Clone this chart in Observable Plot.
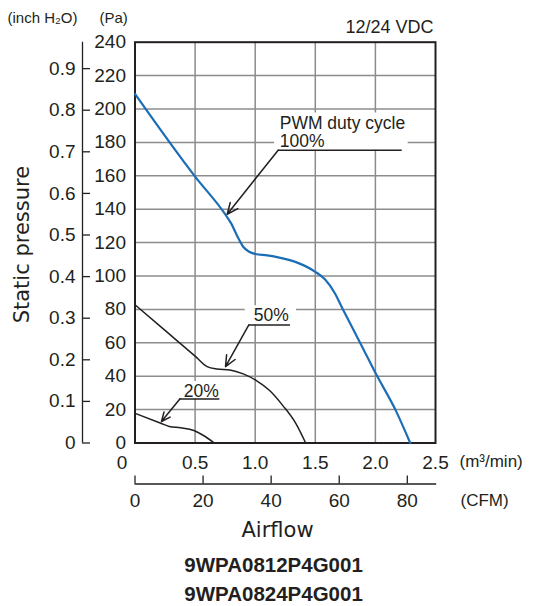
<!DOCTYPE html>
<html>
<head>
<meta charset="utf-8">
<script src="https://cdn.jsdelivr.net/npm/d3@7"></script>
<script src="https://cdn.jsdelivr.net/npm/@observablehq/plot@0.6"></script>
<style>
  html, body { margin: 0; padding: 0; background: #fff; }
  #chart svg { display: block; }
</style>
</head>
<body>
<div id="chart"></div>
<script>
// ---- data ----
const flow100 = [0, 0.5, 0.75, 0.8, 0.85, 0.9, 0.95, 1.0, 1.1, 1.2, 1.35, 1.5, 1.58, 1.66, 1.73, 1.88, 2.0, 2.17, 2.29];
const pa100   = [209, 159.5, 137, 131.5, 124, 117.5, 114.5, 113.2, 112.3, 111, 108, 102.5, 98, 90, 80, 59, 42, 19.4, 0];
const flow50  = [0, 0.24, 0.5, 0.6, 0.68, 0.79, 0.9, 1.01, 1.12, 1.23, 1.34, 1.42];
const pa50    = [82.8, 68, 52, 45.7, 44.3, 43.7, 41.4, 37.4, 31.4, 22.4, 11.5, 0];
const flow20  = [0, 0.215, 0.285, 0.38, 0.49, 0.57, 0.66];
const pa20    = [17.8, 11.8, 9.9, 9.1, 7.5, 4.5, 0];

const xTicks    = [0, 0.5, 1.0, 1.5, 2.0, 2.5];
const xGrid     = [0.5, 1.0, 1.5, 2.0];
const yTicks    = [0, 20, 40, 60, 80, 100, 120, 140, 160, 180, 200, 220, 240];
const yGrid     = [20, 40, 60, 80, 100, 120, 140, 160, 180, 200, 220];
const inchTicks = [0, 0.1, 0.2, 0.3, 0.4, 0.5, 0.6, 0.7, 0.8, 0.9];
const cfmTicks  = [0, 20, 40, 60, 80];
const PA_PER_INCH = 249.089;
const CFM_PER_M3MIN = 35.3147;

// annotations (data units)
const annoLabel = ["100%", "50%", "20%"];
const annoTextX = [1.204, 0.988, 0.406];
const annoTextY = [180.8, 76.2, 30.8];
const kneeX     = [1.191, 0.947, 0.373];
const kneeY     = [175.3, 70.7, 26.4];
const endX      = [2.223, 1.294, 0.706];
const tipX      = [0.767, 0.753, 0.22];
const tipY      = [137.0, 45.7, 12.9];
const headerLabel = "PWM duty cycle";
const headerY = 191.6;

const models = ["9WPA0812P4G001", "9WPA0824P4G001"];

// ---- build tables ----
const toRows = (xs, ys) => xs.map((x, i) => ({x, y: ys[i]}));
const c100 = toRows(flow100, pa100);
const c50 = toRows(flow50, pa50);
const c20 = toRows(flow20, pa20);
const annos = annoLabel.map((label, i) => ({
  label, tx: annoTextX[i], ty: annoTextY[i],
  kx: kneeX[i], ky: kneeY[i], ex: endX[i], px: tipX[i], py: tipY[i],
  top: i === 0 ? headerY : annoTextY[i]
}));

const W = 536, H = 606;
const mL = 134.5, mR = 101, mT = 41.7, mB = H - 442.5;
const innerW = W - mL - mR, innerH = H - mT - mB;

const ink = "#231f20";
const sans = "'Liberation Sans', Arial, Helvetica, sans-serif";
const wide = "'DejaVu Sans', sans-serif";
const TL = {fontSize: 19, fontFamily: sans, fill: ink, ariaLabel: "ticklabel"};

const plot = Plot.plot({
  width: W, height: H,
  marginLeft: mL, marginRight: mR, marginTop: mT, marginBottom: mB,
  x: {domain: [0, 2.5], axis: null},
  y: {domain: [0, 240], axis: null},
  style: {background: "#fff", color: ink, fontFamily: sans},
  marks: [
    // grid
    Plot.ruleX(xGrid, {stroke: "#8c8c8c", strokeWidth: 1.5}),
    Plot.ruleY(yGrid, {stroke: "#8c8c8c", strokeWidth: 1.5}),
    // white boxes behind annotation labels
    Plot.rect(annos, {x1: d => d.kx - 0.03, x2: d => d.ex + 0.05, y1: d => d.ky, y2: d => d.top + 6, fill: "#fff"}),
    Plot.frame({stroke: ink, strokeWidth: 2}),
    // curves
    Plot.line(c100, {x: "x", y: "y", stroke: "#1b6db5", strokeWidth: 2.2, curve: "monotone-x"}),
    Plot.line(c50, {x: "x", y: "y", stroke: ink, strokeWidth: 1.5, curve: "monotone-x"}),
    Plot.line(c20, {x: "x", y: "y", stroke: ink, strokeWidth: 1.5, curve: "monotone-x"}),
    // annotation leaders
    Plot.ruleY(annos, {y: "ky", x1: "kx", x2: "ex", stroke: ink, strokeWidth: 1.5}),
    Plot.arrow(annos, {x1: "kx", y1: "ky", x2: "px", y2: "py", stroke: ink, strokeWidth: 1.5, headLength: 12, headAngle: 48}),
    Plot.text(annos, {x: "tx", y: "ty", text: "label", textAnchor: "start", fontSize: 17.5, fontFamily: sans, fill: ink}),
    Plot.text([headerLabel], {x: annoTextX[0], y: headerY, textAnchor: "start", fontSize: 17.5, fontFamily: sans, fill: ink}),
    // Pa axis labels
    Plot.text(yTicks, {y: d => d, frameAnchor: "left", dx: -9, textAnchor: "end", lineAnchor: "middle", ...TL}),
    // inch H2O axis
    Plot.ruleX([0], {y1: 0, y2: 240, dx: -52.5, stroke: ink, strokeWidth: 1.3}),
    Plot.tickY(inchTicks, {y: d => d * PA_PER_INCH, insetRight: innerW - 8, dx: -52.5, stroke: ink, strokeWidth: 1.3}),
    Plot.text(inchTicks, {y: d => d * PA_PER_INCH, text: d => d === 0 ? "0" : d.toFixed(1), frameAnchor: "left", dx: -59.5, textAnchor: "end", lineAnchor: "middle", ...TL}),
    // m3/min labels
    Plot.text(xTicks.filter(d => d === 0), {x: d => d, text: d => "0", frameAnchor: "bottom", dy: 19.5, dx: -13, textAnchor: "middle", lineAnchor: "middle", ...TL}),
    Plot.text(xTicks.filter(d => d !== 0), {x: d => d, text: d => d.toFixed(1), frameAnchor: "bottom", dy: 19.5, textAnchor: "middle", lineAnchor: "middle", ...TL}),
    // CFM axis
    Plot.ruleY([0], {x1: 0, x2: 2.51, dy: 41, stroke: ink, strokeWidth: 1.3}),
    Plot.tickX(cfmTicks, {x: d => d / CFM_PER_M3MIN, insetTop: innerH - 8, dy: 41, stroke: ink, strokeWidth: 1.3}),
    Plot.text(cfmTicks, {x: d => d / CFM_PER_M3MIN, text: d => String(d), frameAnchor: "bottom", dy: 58, textAnchor: "middle", lineAnchor: "middle", ...TL}),
    // unit labels
    Plot.text(["(m³/min)"], {frameAnchor: "bottom-right", dx: 24, dy: 19, textAnchor: "start", lineAnchor: "middle", fontSize: 17, fontFamily: sans, fill: ink}),
    Plot.text(["(CFM)"], {frameAnchor: "bottom-right", dx: 25, dy: 58, textAnchor: "start", lineAnchor: "middle", fontSize: 17, fontFamily: sans, fill: ink}),
    Plot.text(["(inch H₂O)"], {frameAnchor: "top-left", dx: -127.5, dy: -24.5, textAnchor: "start", lineAnchor: "middle", fontSize: 15, fontFamily: sans, fill: ink}),
    Plot.text(["(Pa)"], {frameAnchor: "top-left", dx: -35.5, dy: -24.5, textAnchor: "start", lineAnchor: "middle", fontSize: 15, fontFamily: sans, fill: ink}),
    Plot.text(["12/24 VDC"], {frameAnchor: "top-right", dx: -2, dy: -15, textAnchor: "end", lineAnchor: "middle", fontSize: 18, fontFamily: sans, fill: ink}),
    // axis titles
    Plot.text(["Static pressure"], {frameAnchor: "left", dx: -112.5, dy: 2, rotate: -90, textAnchor: "middle", lineAnchor: "middle", fontSize: 21, fontFamily: wide, fill: ink}),
    Plot.text(["Airflow"], {frameAnchor: "bottom", dx: -7.7, dy: 87, textAnchor: "middle", lineAnchor: "middle", fontSize: 21, fontFamily: wide, fill: ink}),
    // model names
    Plot.text([models[0]], {frameAnchor: "bottom", dx: -11.7, dy: 122, textAnchor: "middle", lineAnchor: "middle", fontSize: 20.5, fontWeight: "bold", fontFamily: sans, fill: ink}),
    Plot.text([models[1]], {frameAnchor: "bottom", dx: -11.7, dy: 151, textAnchor: "middle", lineAnchor: "middle", fontSize: 20.5, fontWeight: "bold", fontFamily: sans, fill: ink})
  ]
});
document.getElementById("chart").appendChild(plot);
// condensed look for the tick numerals (like the original's narrow face)
d3.select(plot).selectAll('g[aria-label="ticklabel"] text').each(function () {
  const w = this.getComputedTextLength();
  this.setAttribute("textLength", (w * 0.82).toFixed(2));
  this.setAttribute("lengthAdjust", "spacingAndGlyphs");
});
</script>
</body>
</html>
